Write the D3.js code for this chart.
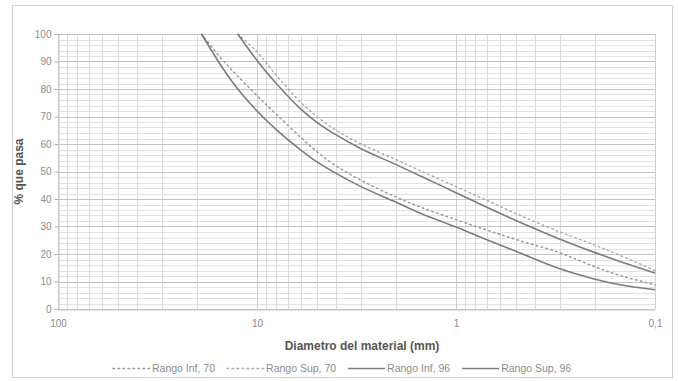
<!DOCTYPE html>
<html>
<head>
<meta charset="utf-8">
<script src="https://cdn.jsdelivr.net/npm/d3@7"></script>
<style>
  html, body { margin: 0; padding: 0; background: #ffffff; }
  svg { display: block; font-family: Arial, "Liberation Sans", sans-serif; }
</style>
</head>
<body>
<svg id="chart" width="678" height="381"></svg>
<script>
// ---- data ----
const diameters = [19, 15, 12.5, 10, 8, 6, 5, 4, 3, 2, 1.5, 1, 0.7, 0.5, 0.3, 0.2, 0.15, 0.1];
const rangoInf70 = [100, 90.8, 84.7, 77.6, 70.8, 62.3, 57.2, 52, 46.8, 40.7, 37, 32.5, 28.7, 25.3, 20.4, 15.3, 12.2, 8.8];
const rangoSup70 = [null, null, 100, 93.5, 85, 75, 70, 65, 60, 54.3, 50.2, 44.5, 39.5, 34.7, 28, 23.2, 19.5, 14];
const rangoInf96 = [100, 88, 80, 72, 65.2, 57.7, 53.5, 49.3, 44.5, 38.8, 34.7, 29.8, 25.2, 21, 14.6, 10.8, 8.8, 7.0];
const rangoSup96 = [null, null, 100, 90.4, 82, 72.6, 67.9, 63.3, 58.3, 52.5, 48.3, 42.3, 37, 32.2, 25.4, 20.5, 17.3, 13.1];
const seriesNames = ["Rango Inf, 70", "Rango Sup, 70", "Rango Inf, 96", "Rango Sup, 96"];
const xTickValues = [100, 10, 1, 0.1];
const xTickLabels = ["100", "10", "1", "0,1"];
const yTickValues = [0, 10, 20, 30, 40, 50, 60, 70, 80, 90, 100];
const xTitle = "Diametro del material (mm)";
const yTitle = "% que pasa";

// ---- layout ----
const plot = { left: 58, right: 655, top: 34, bottom: 309 };
const svg = d3.select("#chart");

// outer frame
svg.append("rect").attr("x", 12.5).attr("y", 5.5).attr("width", 660).attr("height", 372)
  .attr("fill", "#fff").attr("stroke", "#d0d0d0").attr("stroke-width", 1);

const x = d3.scaleLog().domain([100, 0.1]).range([plot.left, plot.right]);
const y = d3.scaleLinear().domain([0, 100]).range([plot.bottom, plot.top]);

const g = svg.append("g");

// horizontal minor grid (every 2)
const yMinor = d3.range(0, 101, 2).filter(v => v % 10 !== 0);
g.selectAll(".hminor").data(yMinor).join("line")
  .attr("x1", plot.left).attr("x2", plot.right)
  .attr("y1", d => Math.round(y(d)) + 0.5).attr("y2", d => Math.round(y(d)) + 0.5)
  .attr("stroke", "#e2e2e2").attr("stroke-width", 1);

// vertical grid (log minor lines)
const vLines = [];
[-1, 0, 1].forEach(e => { for (let k = 1; k <= 9; k++) vLines.push(k * Math.pow(10, e)); });
vLines.push(100);
g.selectAll(".vgrid").data(vLines).join("line")
  .attr("x1", d => Math.round(x(d)) + 0.5).attr("x2", d => Math.round(x(d)) + 0.5)
  .attr("y1", plot.top).attr("y2", plot.bottom)
  .attr("stroke", d => xTickValues.includes(d) ? "#cfcfcf" : "#dadada").attr("stroke-width", 1);

// horizontal major grid
g.selectAll(".hmajor").data(yTickValues).join("line")
  .attr("x1", plot.left).attr("x2", plot.right)
  .attr("y1", d => Math.round(y(d)) + 0.5).attr("y2", d => Math.round(y(d)) + 0.5)
  .attr("stroke", "#c4c4c4").attr("stroke-width", 1);

// axes
const yAxis = d3.axisLeft(y).tickValues(yTickValues).tickSize(4).tickPadding(3);
const yg = svg.append("g").attr("transform", `translate(${plot.left + 0.5},0)`).call(yAxis);
yg.select(".domain").attr("stroke", "#c4c4c4");
yg.selectAll(".tick line").attr("stroke", "#b0b0b0");
yg.selectAll(".tick text").attr("fill", "#8c8c8c").style("font-size", "10px")
  .style("font-family", "Arial, 'Liberation Sans', sans-serif");

const xAxis = d3.axisBottom(x).tickValues(xTickValues)
  .tickFormat((d, i) => xTickLabels[i]).tickSize(0).tickPadding(10);
const xg = svg.append("g").attr("transform", `translate(0,${plot.bottom + 0.5})`).call(xAxis);
xg.select(".domain").attr("stroke", "#c4c4c4");
xg.selectAll(".tick text").attr("fill", "#8c8c8c").style("font-size", "10px")
  .style("font-family", "Arial, 'Liberation Sans', sans-serif");

// series
const makePts = vals => diameters.map((d, i) => ({ d, v: vals[i] })).filter(p => p.v !== null);
const series = [
  { name: seriesNames[0], pts: makePts(rangoInf70), dash: "1.6,3.4", color: "#9a9a9a", w: 1.5 },
  { name: seriesNames[1], pts: makePts(rangoSup70), dash: "1.6,3.4", color: "#a8a8a8", w: 1.4 },
  { name: seriesNames[2], pts: makePts(rangoInf96), dash: null, color: "#7c7c7c", w: 1.6 },
  { name: seriesNames[3], pts: makePts(rangoSup96), dash: null, color: "#7c7c7c", w: 1.6 }
];
const line = d3.line().x(p => x(p.d)).y(p => y(p.v)).curve(d3.curveCatmullRom.alpha(0.5));
svg.append("g").selectAll("path").data(series).join("path")
  .attr("d", s => line(s.pts))
  .attr("fill", "none")
  .attr("stroke", s => s.color)
  .attr("stroke-width", s => s.w)
  .attr("stroke-dasharray", s => s.dash)
  .attr("stroke-linecap", s => s.dash ? "round" : "butt");

// titles
svg.append("text").attr("x", 362).attr("y", 350).attr("text-anchor", "middle")
  .attr("fill", "#555").style("font-size", "12px").style("font-weight", "bold").text(xTitle);
svg.append("text").attr("transform", `translate(23,${(plot.top + plot.bottom) / 2}) rotate(-90)`)
  .attr("text-anchor", "middle").attr("fill", "#555")
  .style("font-size", "12px").style("font-weight", "bold").text(yTitle);

// legend
const lg = svg.append("g").attr("transform", "translate(0,372)");
let lx = 113;
series.forEach(s => {
  lg.append("line").attr("x1", lx).attr("x2", lx + 37).attr("y1", -3.5).attr("y2", -3.5)
    .attr("stroke", s.color).attr("stroke-width", s.w).attr("stroke-dasharray", s.dash)
    .attr("stroke-linecap", s.dash ? "round" : "butt");
  const t = lg.append("text").attr("x", lx + 39).attr("y", 0).attr("fill", "#8c8c8c")
    .style("font-size", "10.5px").text(s.name);
  lx += 39 + t.node().getComputedTextLength() + 12;
});
</script>
</body>
</html>
